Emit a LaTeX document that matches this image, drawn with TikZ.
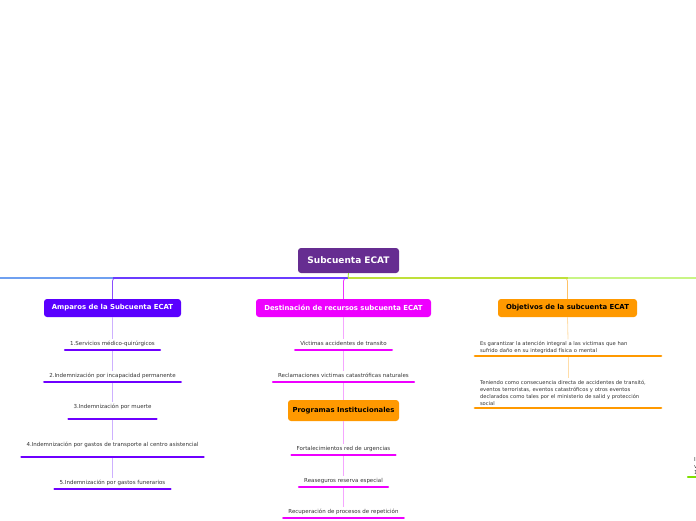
\documentclass[tikz,border=0pt]{standalone}
\usepackage{fontspec}
\setmainfont{DejaVu Sans}
\usetikzlibrary{positioning}

\definecolor{rootc}{HTML}{662D91}
\definecolor{ampc}{HTML}{5A00FF}
\definecolor{ampline}{HTML}{6E00FF}
\definecolor{amptrunk}{HTML}{6B3CFF}
\definecolor{ampdrop}{HTML}{8A4DFF}
\definecolor{amplink}{HTML}{CDB0FF}
\definecolor{destc}{HTML}{EE00FF}
\definecolor{destdrop}{HTML}{EE33FF}
\definecolor{destlink}{HTML}{F5A6FF}
\definecolor{objc}{HTML}{FF9900}
\definecolor{objlink}{HTML}{FFDDA8}
\definecolor{leftc}{HTML}{6FA0F0}
\definecolor{ygreen}{HTML}{BFE03A}
\definecolor{rgreen}{HTML}{C8F585}
\definecolor{bgreen}{HTML}{7FE000}
\definecolor{txtgray}{HTML}{333333}

\begin{document}
\begin{tikzpicture}[
    x=1pt, y=-1pt,
    topic/.style={rectangle, rounded corners=3pt, inner sep=0pt, minimum height=18pt,
        font=\bfseries\fontsize{6.9}{8}\selectfont},
    note/.style={anchor=south, inner xsep=5pt, inner ysep=2pt, text=txtgray,
        font=\fontsize{5.5}{7}\selectfont},
    item/.style={note, text height=4.5pt, text depth=2.5pt},
    block/.style={note, align=left, text width=176pt, inner xsep=5pt,
        font=\fontsize{5.2}{7}\selectfont},
    uline/.style={line width=2.2pt, line cap=round},
    trunk/.style={line width=1.8pt},
    drop/.style={line width=0.8pt, rounded corners=3pt},
    link/.style={line width=0.8pt}
]
\useasboundingbox (0,0) rectangle (696,520);
\clip (0,0) rectangle (696,520);

% central topic and main topics
\node[topic, fill=rootc, text=white, minimum width=101pt, minimum height=25pt,
    font=\bfseries\fontsize{9}{10}\selectfont] (root) at (348.5,260.5) {Subcuenta ECAT};
\node[topic, fill=ampc, text=white, minimum width=137pt] (amparos) at (112.5,308) {Amparos de la Subcuenta ECAT};
\node[topic, fill=destc, text=white, minimum width=175pt] (destin) at (343.5,308) {Destinación de recursos subcuenta ECAT};
\node[topic, fill=objc, text=black, minimum width=139pt] (objet) at (567.5,308) {Objetivos de la subcuenta ECAT};

\coordinate (hub) at (348,278);
\coordinate (leftoff) at (0,278);
\coordinate (rightoff) at (696,278);

% branches
\draw[trunk, leftc] (hub) -- (leftoff);
\draw[trunk, rgreen] (hub) -- (rightoff);
\draw[drop, ampdrop] (hub) -| (amparos.north);
\draw[drop, destdrop] (hub) -| (destin.north);
\draw[drop, objlink!60!objc] (hub) -| (objet.north);
\draw[trunk, amptrunk] (hub) -- (hub -| amparos.north);
\draw[trunk, ygreen] (hub) -- (hub -| objet.north);
\draw[link, bgreen!70!rgreen] (root.south) -- (hub);

% Amparos
\node[item] (a1) at (112.5,350) {1.Servicios médico-quirúrgicos};
\node[item] (a2) at (112.5,382) {2.Indemnización por incapacidad permanente};
\node[item, text depth=8.5pt] (a3) at (112.5,419) {3.Indemnización por muerte};
\node[item, text depth=8.5pt] (a4) at (112.5,457) {4.Indemnización por gastos de transporte al centro asistencial};
\node[item] (a5) at (112.5,489) {5.Indemnización por gastos funerarios};

% Destinacion
\node[item] (d1) at (343.5,350) {Victimas accidentes de transito};
\node[item] (d2) at (343.5,382) {Reclamaciones victimas catastróficas naturales};
\node[topic, fill=objc, text=black, minimum width=111pt, minimum height=21pt] (progr) at (343.5,410.5) {Programas Institucionales};
\node[item] (d3) at (343.5,455) {Fortalecimientos red de urgencias};
\node[item] (d4) at (343.5,487) {Reaseguros reserva especial};
\node[item] (d5) at (343.5,518) {Recuperación de procesos de repetición};

% Objetivos
\node[block] (o1) at (568,356)
    {Es garantizar la atención integral a las victimas que han\\sufrido daño en su integridad física o mental};
\node[block] (o2) at (568,408)
    {Teniendo como consecuencia directa de accidentes de transitó,\\eventos terroristas, eventos catastróficos y otros eventos\\declarados como tales por el ministerio de salid y protección\\social};

% off the right edge
\node[note, anchor=south west, align=left, inner xsep=6pt,
    font=\fontsize{5.5}{6.5}\selectfont] (rnode) at (688,477) {I\\v\\1};

% connectors between items
\foreach \p/\q in {amparos/a1, a1/a2, a2/a3, a3/a4, a4/a5}
    \draw[link, amplink] (\p.south) -- (\q.north);
\foreach \p/\q in {destin/d1, d1/d2, d2/progr, progr/d3, d3/d4, d4/d5}
    \draw[link, destlink] (\p.south) -- (\q.north);
\foreach \p/\q in {objet/o1, o1/o2}
    \draw[link, objlink] (\p.south) -- (\q.north);

% underlines
\foreach \n in {a1, a2, a3, a4, a5}
    \draw[uline, ampline] (\n.south west) -- (\n.south east);
\foreach \n in {d1, d2, d3, d4, d5}
    \draw[uline, destc] (\n.south west) -- (\n.south east);
\foreach \n in {o1, o2}
    \draw[uline, objc] (\n.south west) -- (\n.south east);
\draw[uline, bgreen] (rnode.south west) -- (rnode.south east);

\end{tikzpicture}
\end{document}
